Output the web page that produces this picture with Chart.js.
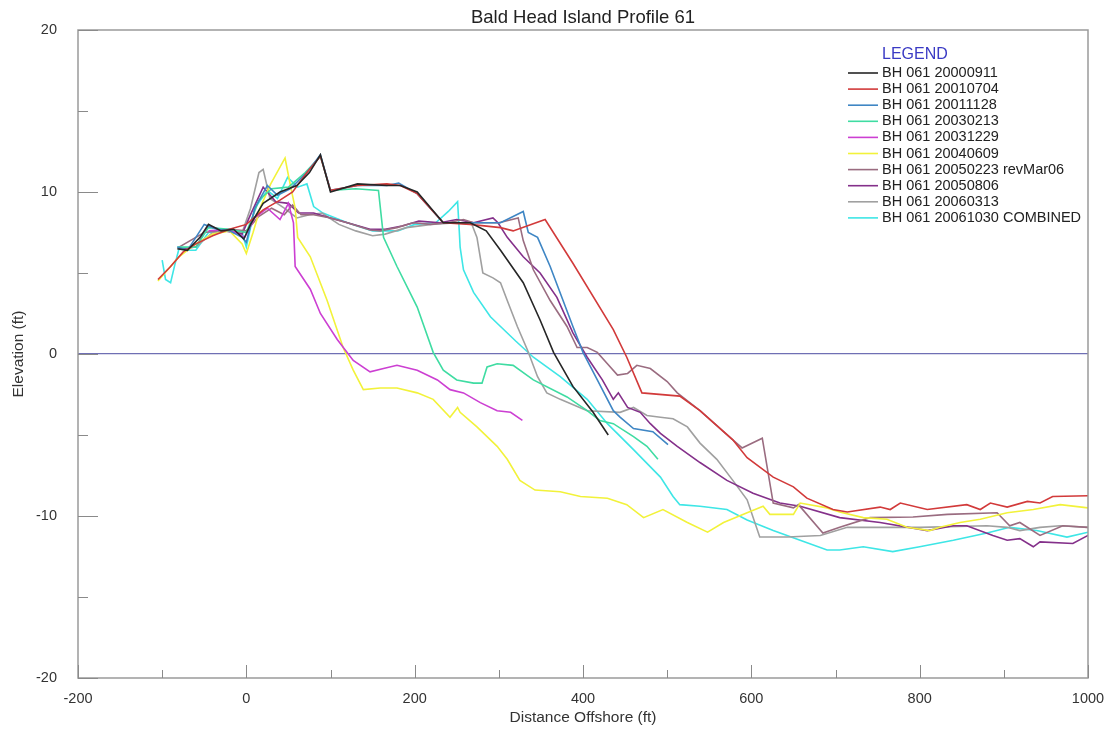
<!DOCTYPE html>
<html>
<head>
<meta charset="utf-8">
<script src="https://cdn.jsdelivr.net/npm/chart.js@4.4.1/dist/chart.umd.min.js"></script>
<style>
  body { margin: 0; background: #fff; }
  canvas { display: block; }
</style>
</head>
<body>
<canvas id="profile-chart" width="1112" height="732"></canvas>
<script>
// profile surveys, [distance offshore (ft), elevation (ft)]
const bh20000911 = [[-82,6.5],[-70,6.4],[-55,7.2],[-45,8.0],[-30,7.6],[-15,7.7],[-3,7.1],[5,8.0],[20,9.3],[40,10.0],[60,10.4],[75,11.2],[88,12.3],[100,10.0],[132,10.5],[167,10.4],[183,10.4],[203,10.0],[234,8.1],[266,8.1],[285,7.6],[302,6.4],[329,4.4],[349,2.1],[365,0.1],[388,-2.0],[412,-3.6],[430,-5.0]];
const bh20010704 = [[-105,4.6],[-90,5.4],[-75,6.3],[-60,6.8],[-40,7.3],[-20,7.7],[0,8.0],[20,8.9],[40,9.5],[55,10.0],[72,11.2],[88,12.2],[100,10.1],[132,10.4],[167,10.5],[183,10.4],[203,9.9],[234,8.1],[266,8.0],[302,7.8],[317,7.6],[355,8.3],[388,5.6],[436,1.5],[452,-0.2],[470,-2.4],[515,-2.6],[539,-3.5],[578,-5.3],[595,-6.4],[626,-7.6],[650,-8.2],[666,-8.9],[697,-9.6],[714,-9.75],[753,-9.45],[765,-9.6],[777,-9.2],[809,-9.6],[856,-9.3],[872,-9.6],[884,-9.2],[904,-9.45],[928,-9.1],[943,-9.2],[958,-8.8],[1000,-8.75]];
const bh20011128 = [[-82,6.6],[-70,6.4],[-50,8.0],[-35,7.7],[-20,7.6],[-5,7.2],[0,6.9],[10,9.0],[25,10.4],[37,9.8],[52,10.2],[72,11.2],[88,12.3],[100,10.1],[132,10.4],[167,10.4],[181,10.55],[203,9.9],[234,8.1],[266,8.1],[302,8.1],[329,8.8],[335,7.5],[346,7.2],[361,5.4],[388,1.7],[400,0.1],[417,-1.6],[436,-3.5],[444,-3.9],[460,-4.6],[483,-4.8],[501,-5.6]];
const bh20030213 = [[-82,6.6],[-60,6.6],[-45,7.8],[-20,7.7],[0,7.5],[15,9.5],[30,10.2],[50,10.3],[70,11.2],[88,12.2],[100,10.1],[130,10.2],[157,10.1],[163,7.2],[179,5.4],[203,2.9],[222,0.1],[234,-1.0],[250,-1.6],[270,-1.8],[280,-1.8],[286,-0.8],[298,-0.6],[317,-0.7],[341,-1.6],[381,-2.65],[405,-3.5],[420,-4.1],[436,-4.3],[460,-5.1],[476,-5.7],[489,-6.5]];
const bh20031229 = [[-45,7.6],[-20,7.7],[-2,7.2],[10,8.4],[25,9.0],[40,8.3],[50,9.3],[56,8.1],[58,5.4],[76,4.0],[88,2.5],[108,0.9],[127,-0.4],[147,-1.1],[163,-0.9],[179,-0.7],[203,-1.0],[227,-1.6],[242,-2.2],[258,-2.4],[278,-3.0],[298,-3.5],[314,-3.6],[328,-4.1]];
const bh20040609 = [[-105,4.5],[-80,6.0],[-60,6.8],[-40,7.4],[-20,7.6],[-5,6.8],[0,6.2],[8,7.5],[17,9.1],[29,10.5],[46,12.1],[52,10.5],[58,9.0],[61,7.2],[76,6.0],[96,3.3],[115,0.4],[127,-1.0],[139,-2.2],[159,-2.1],[179,-2.1],[203,-2.4],[222,-2.8],[242,-3.9],[251,-3.3],[254,-3.6],[274,-4.5],[298,-5.7],[310,-6.5],[325,-7.8],[343,-8.4],[373,-8.5],[397,-8.8],[429,-8.9],[452,-9.3],[472,-10.1],[495,-9.6],[524,-10.4],[548,-11.0],[567,-10.4],[595,-9.8],[614,-9.4],[622,-9.9],[650,-9.9],[658,-9.2],[690,-9.5],[705,-9.75],[733,-10.1],[761,-10.2],[785,-10.7],[812,-10.9],[824,-10.7],[848,-10.4],[872,-10.2],[904,-9.8],[935,-9.6],[967,-9.3],[1000,-9.5]];
const bh20050223 = [[-80,6.6],[-50,7.5],[-20,7.7],[0,7.6],[15,8.5],[30,9.0],[45,8.6],[55,9.2],[65,8.6],[80,8.6],[100,8.4],[120,8.1],[147,7.65],[159,7.6],[179,7.8],[198,8.1],[219,8.0],[239,8.1],[258,8.3],[270,8.1],[300,8.1],[323,8.4],[329,7.0],[341,5.2],[361,3.3],[381,1.7],[393,0.4],[405,0.4],[417,0.1],[429,-0.6],[441,-1.3],[453,-1.2],[464,-0.7],[480,-0.9],[500,-1.7],[512,-2.4],[539,-3.5],[578,-5.3],[589,-5.8],[613,-5.2],[626,-9.2],[650,-9.5],[656,-9.3],[685,-11.05],[705,-10.7],[741,-10.1],[792,-10.06],[833,-9.9],[892,-9.8],[907,-10.6],[919,-10.4],[943,-11.2],[970,-10.6],[1000,-10.7]];
const bh20050806 = [[-80,6.5],[-60,6.6],[-45,7.9],[-25,7.6],[-5,7.4],[5,8.6],[20,10.3],[35,9.4],[50,9.3],[62,8.7],[80,8.7],[100,8.4],[120,8.1],[147,7.7],[165,7.7],[185,7.9],[205,8.2],[230,8.1],[250,8.3],[270,8.1],[293,8.4],[299,8.1],[310,7.2],[329,6.0],[349,5.0],[369,3.5],[388,1.3],[405,-0.2],[423,-1.6],[436,-2.8],[442,-2.4],[453,-3.3],[468,-3.6],[480,-4.3],[492,-4.9],[512,-5.7],[539,-6.7],[571,-7.8],[602,-8.6],[634,-9.2],[658,-9.4],[705,-10.1],[753,-10.4],[809,-10.9],[840,-10.6],[856,-10.6],[887,-11.2],[904,-11.5],[919,-11.4],[935,-11.9],[943,-11.6],[982,-11.7],[1000,-11.2]];
const bh20060313 = [[-80,6.5],[-60,6.6],[-40,7.5],[-20,7.6],[-5,7.5],[5,9.0],[15,11.2],[20,11.4],[28,9.6],[45,9.0],[60,8.4],[75,8.6],[90,8.7],[110,8.0],[130,7.6],[150,7.3],[165,7.4],[190,7.8],[220,8.0],[250,8.1],[268,8.0],[274,7.2],[281,5.0],[293,4.7],[302,4.4],[310,3.3],[322,1.7],[334,0.25],[346,-1.4],[357,-2.4],[373,-2.8],[405,-3.5],[444,-3.6],[460,-3.3],[476,-3.8],[492,-3.9],[507,-4.0],[524,-4.5],[539,-5.5],[559,-6.5],[578,-7.8],[595,-9.0],[610,-11.3],[643,-11.3],[682,-11.2],[714,-10.7],[741,-10.7],[800,-10.7],[880,-10.6],[904,-10.7],[919,-10.9],[943,-10.7],[967,-10.6],[1000,-10.7]];
const bh20061030 = [[-100,5.8],[-96,4.6],[-90,4.4],[-85,5.5],[-80,6.5],[-70,6.4],[-60,6.4],[-45,7.5],[-20,7.6],[-5,7.5],[0,6.6],[10,9.0],[25,10.1],[37,9.6],[49,10.9],[61,10.3],[72,10.5],[80,9.1],[91,8.7],[120,8.1],[150,7.6],[180,7.6],[200,8.0],[225,8.1],[240,8.8],[251,9.4],[253,7.6],[254,6.6],[258,5.2],[270,3.8],[290,2.3],[302,1.7],[320,0.8],[341,-0.2],[373,-1.4],[405,-2.8],[429,-4.3],[460,-5.9],[492,-7.6],[507,-8.8],[515,-9.3],[539,-9.4],[571,-9.6],[595,-10.25],[626,-10.9],[658,-11.5],[690,-12.1],[705,-12.1],[733,-11.9],[768,-12.2],[800,-11.9],[840,-11.5],[880,-11.05],[907,-10.7],[939,-10.9],[975,-11.3],[1000,-11.0]];

const surveys = [bh20000911, bh20010704, bh20011128, bh20030213, bh20031229, bh20040609, bh20050223, bh20050806, bh20060313, bh20061030];
const labels = ["BH 061 20000911", "BH 061 20010704", "BH 061 20011128", "BH 061 20030213", "BH 061 20031229", "BH 061 20040609", "BH 061 20050223 revMar06", "BH 061 20050806", "BH 061 20060313", "BH 061 20061030 COMBINED"];
const colors = ["#262626", "#d23a3a", "#3f86c4", "#3fdca2", "#cc3fd2", "#f2f23a", "#9a6c80", "#84308a", "#a0a0a0", "#3ee6e6"];
const xTicks = [-200, 0, 200, 400, 600, 800, 1000];
const yTicks = [-20, -10, 0, 10, 20];

const FONT = "'Liberation Sans', Arial, sans-serif";

// frame, inside tick marks, title and legend
const decorations = {
  id: "decorations",
  afterDraw(chart) {
    const { ctx, chartArea: a, scales: { x, y } } = chart;
    ctx.save();
    ctx.strokeStyle = "#9a9a9a";
    ctx.lineWidth = 1.5;
    ctx.strokeRect(a.left, a.top, a.right - a.left, a.bottom - a.top);

    ctx.lineWidth = 1;
    ctx.strokeStyle = "#8a8a8a";
    for (let v = -200; v <= 1000; v += 100) {
      const px = Math.round(x.getPixelForValue(v)) + 0.5;
      const len = xTicks.includes(v) ? 13 : 8;
      ctx.beginPath();
      ctx.moveTo(px, a.bottom);
      ctx.lineTo(px, a.bottom - len);
      ctx.stroke();
    }
    for (let v = -20; v <= 20; v += 5) {
      const py = Math.round(y.getPixelForValue(v)) + 0.5;
      const len = yTicks.includes(v) ? 20 : 10;
      ctx.beginPath();
      ctx.moveTo(a.left, py);
      ctx.lineTo(a.left + len, py);
      ctx.stroke();
    }

    ctx.fillStyle = "#222";
    ctx.font = "18.5px " + FONT;
    ctx.textAlign = "center";
    ctx.textBaseline = "middle";
    ctx.fillText("Bald Head Island Profile 61", (a.left + a.right) / 2, 18);

    // legend
    ctx.textAlign = "left";
    ctx.fillStyle = "#3a3ac4";
    ctx.font = "16px " + FONT;
    ctx.fillText("LEGEND", 882, 55);
    ctx.font = "14.5px " + FONT;
    labels.forEach((lab, i) => {
      const ly = 73 + i * 16.1;
      ctx.strokeStyle = colors[i];
      ctx.lineWidth = 1.6;
      ctx.beginPath();
      ctx.moveTo(848, ly);
      ctx.lineTo(878, ly);
      ctx.stroke();
      ctx.fillStyle = "#222";
      ctx.fillText(lab, 882, ly);
    });
    ctx.restore();
  },
};

const ctx = document.getElementById("profile-chart").getContext("2d");
const profileChart = new Chart(ctx, {
  type: "scatter",
  data: {
    datasets: surveys.map((pts, i) => ({
      label: labels[i],
      data: pts.map((p) => ({ x: p[0], y: p[1] })),
      showLine: true,
      borderColor: colors[i],
      backgroundColor: colors[i],
      borderWidth: 1.6,
      pointRadius: 0,
      tension: 0,
    })),
  },
  options: {
    responsive: false,
    animation: false,
    devicePixelRatio: 1,
    layout: { padding: { top: 30, right: 24, left: 0, bottom: 0 } },
    plugins: {
      legend: { display: false },
      tooltip: { enabled: false },
    },
    scales: {
      x: {
        type: "linear",
        min: -200,
        max: 1000,
        afterFit: (s) => {
          s.height = 54;
          s.paddingLeft = 0;
          s.paddingRight = 0;
        },
        grid: { drawOnChartArea: false, drawTicks: false },
        border: { display: false },
        ticks: {
          stepSize: 200,
          padding: 12,
          color: "#333",
          font: { family: FONT, size: 14.5 },
          maxRotation: 0,
          autoSkip: false,
          callback: (v) => String(v),
        },
        title: {
          display: true,
          text: "Distance Offshore (ft)",
          color: "#333",
          font: { family: FONT, size: 15.5 },
          padding: { top: 0, bottom: 5 },
        },
      },
      y: {
        min: -20,
        max: 20,
        afterFit: (s) => { s.width = 78; },
        grid: {
          drawTicks: false,
          color: (c) => (c.tick && c.tick.value === 0 ? "#6f6fb4" : "rgba(0,0,0,0)"),
          lineWidth: 1.2,
        },
        border: { display: false },
        ticks: {
          stepSize: 10,
          padding: 21,
          color: "#333",
          font: { family: FONT, size: 14.5 },
          callback: (v) => String(v),
        },
        title: {
          display: true,
          text: "Elevation (ft)",
          color: "#333",
          font: { family: FONT, size: 15.5 },
          padding: { top: 9, bottom: 0 },
        },
      },
    },
  },
  plugins: [decorations],
});
</script>
</body>
</html>
